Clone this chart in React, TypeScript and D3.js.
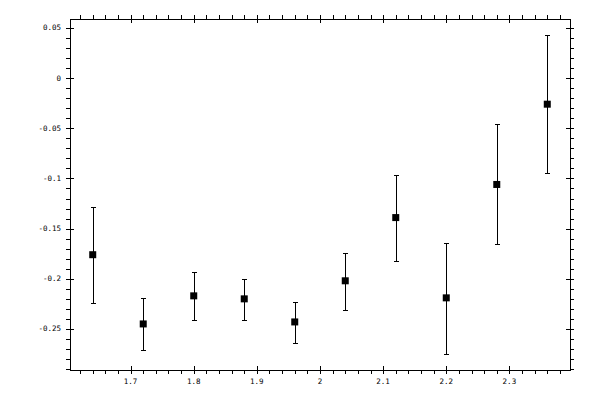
import * as d3 from "d3";

const xs = [1.64, 1.72, 1.8, 1.88, 1.96, 2.04, 2.12, 2.2, 2.28, 2.36];
const ys = [-0.176, -0.245, -0.217, -0.22, -0.243, -0.202, -0.139, -0.219, -0.106, -0.026];
const yHi = [-0.128, -0.219, -0.193, -0.2, -0.223, -0.174, -0.097, -0.164, -0.046, 0.043];
const yLo = [-0.224, -0.271, -0.241, -0.241, -0.264, -0.231, -0.182, -0.275, -0.165, -0.095];

const xMajor = [1.7, 1.8, 1.9, 2, 2.1, 2.2, 2.3];
const yMajor = [0.05, 0, -0.05, -0.1, -0.15, -0.2, -0.25];

const W = 600, H = 400;
const frame = { left: 70, right: 570, top: 19, bottom: 370 };
const font = "'DejaVu Sans Mono', monospace";

function pad([a, b]: [number, number], f = 0.05): [number, number] {
  const p = (b - a) * f;
  return [a - p, b + p];
}

export default function App() {
  const xe = d3.extent(xs) as [number, number];
  const ye: [number, number] = [d3.min(yLo)!, d3.max(yHi)!];
  const x = d3.scaleLinear().domain(pad(xe)).range([frame.left, frame.right]);
  const y = d3.scaleLinear().domain(pad(ye)).range([frame.bottom, frame.top]);

  const [x0, x1] = x.domain();
  const [y0, y1] = y.domain();
  const xMinor = d3.range(Math.ceil(x0 / 0.02), Math.floor(x1 / 0.02) + 1).map((i) => +(i * 0.02).toFixed(2));
  const yMinor = d3.range(Math.ceil(y0 / 0.01), Math.floor(y1 / 0.01) + 1).map((i) => +(i * 0.01).toFixed(2));
  const isMajorX = (v: number) => xMajor.some((m) => Math.abs(m - v) < 1e-6);
  const isMajorY = (v: number) => yMajor.some((m) => Math.abs(m - v) < 1e-6);

  const t = 4; // tick length
  const sq = 7;

  return (
    <svg width={W} height={H} style={{ position: "absolute", left: 0, top: 0, background: "#fff" }}>
      <g stroke="#000" strokeWidth={1} shapeRendering="crispEdges">
        <rect x={frame.left} y={frame.top} width={frame.right - frame.left} height={frame.bottom - frame.top} fill="none" />
        {/* x ticks, bottom and top */}
        {xMinor.map((v) => {
          const px = Math.round(x(v)) + 0.5;
          const inner = isMajorX(v) ? t : 0;
          return (
            <g key={`x${v}`}>
              <line x1={px} x2={px} y1={frame.bottom - inner} y2={frame.bottom + t} />
              <line x1={px} x2={px} y1={frame.top + inner} y2={frame.top - t} />
            </g>
          );
        })}
        {/* y ticks, left and right */}
        {yMinor.map((v) => {
          const py = Math.round(y(v)) + 0.5;
          const inner = isMajorY(v) ? t : 0;
          return (
            <g key={`y${v}`}>
              <line x1={frame.left + inner} x2={frame.left - t} y1={py} y2={py} />
              <line x1={frame.right - inner} x2={frame.right + t} y1={py} y2={py} />
            </g>
          );
        })}
        {/* error bars */}
        {xs.map((xv, i) => {
          const px = Math.round(x(xv)) + 0.5;
          return (
            <g key={`e${i}`}>
              <line x1={px} x2={px} y1={y(yHi[i])} y2={y(yLo[i])} />
              <line x1={px - 2.5} x2={px + 2.5} y1={Math.round(y(yHi[i])) + 0.5} y2={Math.round(y(yHi[i])) + 0.5} />
              <line x1={px - 2.5} x2={px + 2.5} y1={Math.round(y(yLo[i])) + 0.5} y2={Math.round(y(yLo[i])) + 0.5} />
            </g>
          );
        })}
      </g>
      {/* markers */}
      {xs.map((xv, i) => (
        <rect key={`m${i}`} x={x(xv) - sq / 2} y={y(ys[i]) - sq / 2} width={sq} height={sq} fill="#000" />
      ))}
      {/* tick labels */}
      {yMajor.map((v) => (
        <text key={`yl${v}`} x={frame.left - 9} y={y(v) + 2.5} textAnchor="end" fontSize={7.5} fontFamily={font} fill="#000">
          {String(v)}
        </text>
      ))}
      {xMajor.map((v) => (
        <text key={`xl${v}`} x={x(v)} y={frame.bottom + 14} textAnchor="middle" fontSize={7.5} fontFamily={font} fill="#000">
          {String(v)}
        </text>
      ))}
    </svg>
  );
}
